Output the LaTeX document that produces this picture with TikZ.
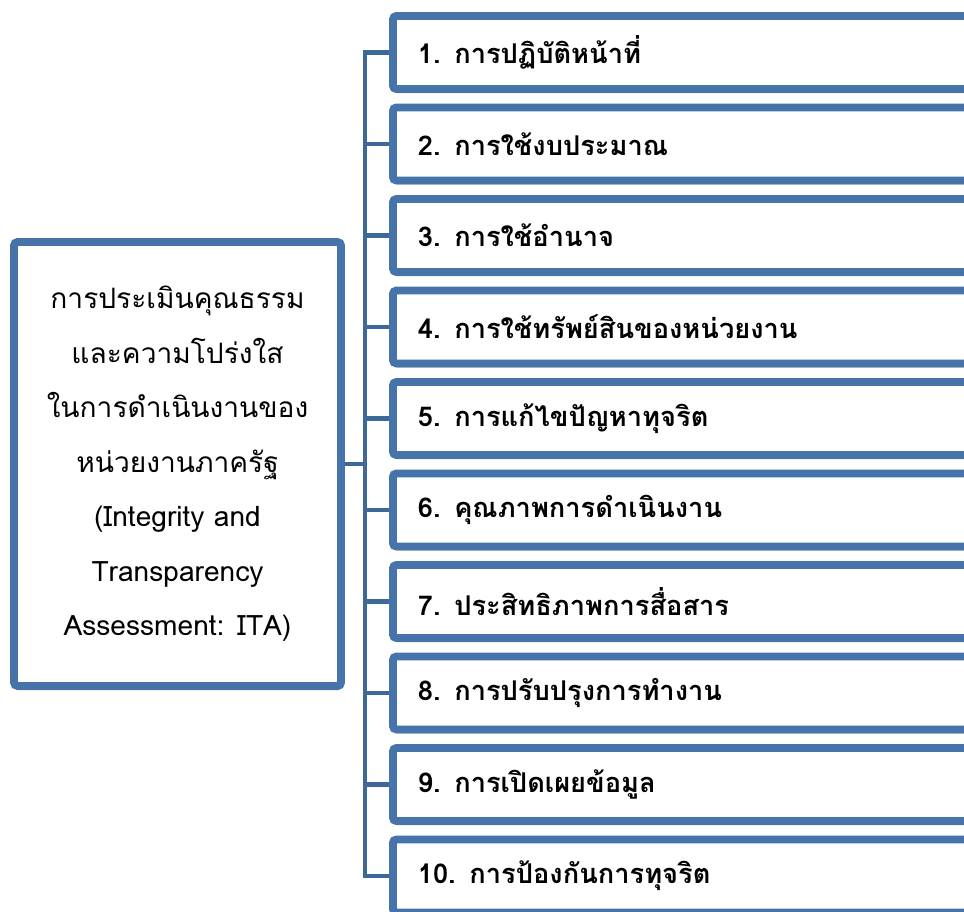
\documentclass[tikz,border=0pt]{standalone}
\usepackage{fontspec}
\newfontfamily\thai[Script=Thai]{Loma}
\usetikzlibrary{shadows}
\definecolor{itablue}{RGB}{70,116,170}
\definecolor{italink}{RGB}{62,104,154}
\tikzset{
  block/.style={
    rectangle,
    rounded corners=2pt,
    draw=itablue,
    line width=4.5pt,
    fill=white,
    drop shadow={shadow xshift=0.5pt, shadow yshift=-2.5pt, opacity=0.35}
  },
  topic/.style={
    block,
    anchor=west,
    minimum height=1.46cm,
    text width=11.2cm,
    inner xsep=0.5cm,
    align=left,
    font=\thai\bfseries\fontsize{15.5}{20}\selectfont
  }
}
\tikzstyle{link} = [draw=italink, line width=2.8pt]

\begin{document}
\begin{tikzpicture}[x=0.02cm, y=-0.02cm]
    \path[use as bounding box, clip] (0,0) rectangle (964,912);
    \node[block, minimum width=6.54cm, minimum height=8.88cm, align=center,
      font=\thai\fontsize{16}{31}\selectfont,
      execute at begin node=\setlength{\baselineskip}{31pt}] (ita) at (177.5,464)
      {การประเมินคุณธรรม\\และความโปร่งใส\\ในการดำเนินงานของ\\หน่วยงานภาครัฐ\\(Integrity and\\Transparency\\Assessment: ITA)};
    \node[topic] (k1) at (389,52.5) {1. การปฏิบัติหน้าที่};
    \node[topic] (k2) at (389,144) {2. การใช้งบประมาณ};
    \node[topic] (k3) at (389,235.5) {3. การใช้อำนาจ};
    \node[topic] (k4) at (389,327) {4. การใช้ทรัพย์สินของหน่วยงาน};
    \node[topic] (k5) at (389,418.5) {5. การแก้ไขปัญหาทุจริต};
    \node[topic] (k6) at (389,510) {6. คุณภาพการดำเนินงาน};
    \node[topic] (k7) at (389,601.5) {7. ประสิทธิภาพการสื่อสาร};
    \node[topic] (k8) at (389,693) {8. การปรับปรุงการทำงาน};
    \node[topic] (k9) at (389,784.5) {9. การเปิดเผยข้อมูล};
    \node[topic] (k10) at (389,876) {10. การป้องกันการทุจริต};
    \coordinate (bus) at (365,464);
    \draw[link] (ita.east) -- (bus);
    \draw[link] (k1.west) -| (bus) |- (k10.west);
    \draw[link] (bus |- k2.west) -- (k2.west);
    \draw[link] (bus |- k3.west) -- (k3.west);
    \draw[link] (bus |- k4.west) -- (k4.west);
    \draw[link] (bus |- k5.west) -- (k5.west);
    \draw[link] (bus |- k6.west) -- (k6.west);
    \draw[link] (bus |- k7.west) -- (k7.west);
    \draw[link] (bus |- k8.west) -- (k8.west);
    \draw[link] (bus |- k9.west) -- (k9.west);
\end{tikzpicture}
\end{document}
